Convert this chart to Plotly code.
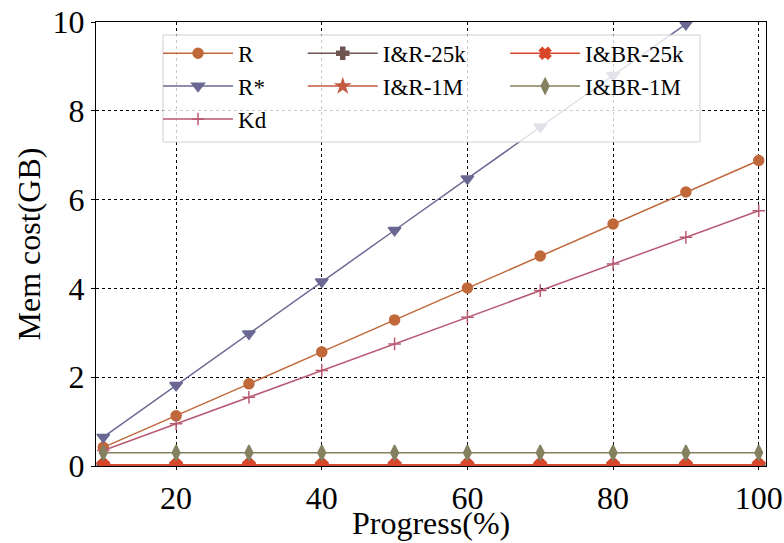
import plotly.graph_objects as go

progress = [10, 20, 30, 40, 50, 60, 70, 80, 90, 100]
r_vals = [0.42, 1.13, 1.85, 2.57, 3.29, 4.01, 4.73, 5.45, 6.17, 6.88]
rstar_vals = [0.65, 1.82, 2.98, 4.15, 5.31, 6.47, 7.64, 8.80, 9.95, 11.10]
kd_vals = [0.35, 0.95, 1.55, 2.15, 2.75, 3.35, 3.95, 4.55, 5.15, 5.75]
ir25k_vals = [0.02] * 10
ir1m_vals = [0.02] * 10
ibr25k_vals = [0.02] * 10
ibr1m_vals = [0.30] * 10

series = [
    ("R", r_vals, "#c0683a", "circle", 10, "legend"),
    ("R*", rstar_vals, "#6a6893", "triangle-down", 11, "legend"),
    ("Kd", kd_vals, "#b85a72", "cross-thin-open", 9, "legend"),
    ("I&R-25k", ir25k_vals, "#6e5552", "cross", 10, "legend2"),
    ("I&R-1M", ir1m_vals, "#c45a42", "star", 10, "legend2"),
    ("I&BR-25k", ibr25k_vals, "#d8462a", "x", 10, "legend3"),
    ("I&BR-1M", ibr1m_vals, "#85805f", "diamond-tall", 11, "legend3"),
]

fig = go.Figure()
for name, vals, color, sym, size, lg in series:
    fig.add_trace(go.Scatter(
        x=progress, y=vals, name=name, mode="lines+markers",
        line=dict(color=color, width=1.5),
        marker=dict(symbol=sym, size=size, color=color,
                    line=dict(color=color, width=1.5)),
        legend=lg, cliponaxis=True,
    ))

font_family = "Liberation Serif"
dx = 13 / 670
leg_common = dict(
    orientation="v", yanchor="top", xanchor="left", y=0.978,
    bgcolor="rgba(0,0,0,0)", borderwidth=0,
    font=dict(family=font_family, size=23, color="black"),
    itemwidth=70, tracegroupgap=0,
)

fig.update_layout(
    width=784, height=543,
    margin=dict(l=96, r=18, t=22, b=77, autoexpand=False),
    plot_bgcolor="white", paper_bgcolor="white",
    font=dict(family=font_family, size=32, color="black"),
    showlegend=True,
    legend=dict(x=0.112 - dx, **leg_common),
    legend2=dict(x=0.328 - dx, **leg_common),
    legend3=dict(x=0.630 - dx, **leg_common),
    shapes=[dict(
        type="rect", xref="paper", yref="paper",
        x0=(163 - 96) / 670, x1=(700 - 96) / 670,
        y0=(466 - 142) / 444, y1=(466 - 35) / 444,
        line=dict(color="#d0d0d0", width=1),
        fillcolor="rgba(255,255,255,0.8)", layer="above",
    )],
    annotations=[dict(
        text="Progress(%)", xref="paper", yref="paper",
        x=0.5, y=(466 - 543) / 444, xanchor="center", yanchor="bottom",
        showarrow=False, font=dict(family=font_family, size=32, color="black"),
    )],
    xaxis=dict(
        range=[9, 101], tickvals=[20, 40, 60, 80, 100],
        showgrid=True, gridcolor="black", griddash="dot", gridwidth=1,
        showline=True, linecolor="black", linewidth=1.2, mirror=True,
        ticks="outside", ticklen=3, tickcolor="black",
        zeroline=False, automargin=False,
    ),
    yaxis=dict(
        range=[0, 10], tickvals=[0, 2, 4, 6, 8, 10],
        showgrid=True, gridcolor="black", griddash="dot", gridwidth=1,
        showline=True, linecolor="black", linewidth=1.2, mirror=True,
        ticks="outside", ticklen=4, tickcolor="black",
        title=dict(text="Mem cost(GB)", standoff=2, font=dict(size=32)),
        zeroline=False, automargin=False,
    ),
)

fig.write_html("out.html", config={"displayModeBar": False},
               post_script="document.body.style.margin='0';")
